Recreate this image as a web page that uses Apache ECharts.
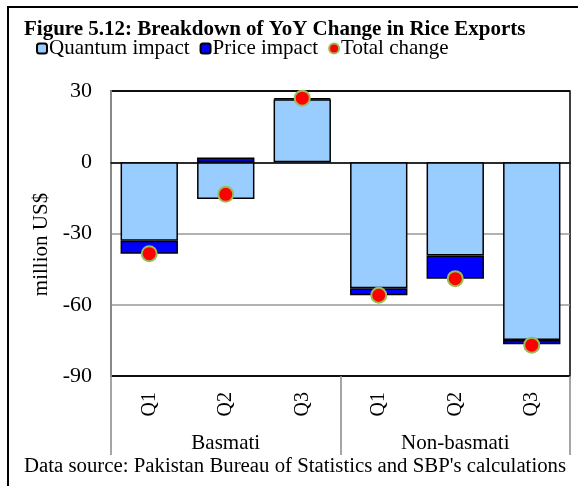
<!DOCTYPE html>
<html>
<head>
<meta charset="utf-8">
<script src="https://cdn.jsdelivr.net/npm/echarts@6/dist/echarts.min.js"></script>
<style>
  html, body { margin: 0; padding: 0; background: #fff; }
  #chart { width: 578px; height: 486px; }
</style>
</head>
<body>
<div id="chart"></div>
<script>
var quarters = ['Q1', 'Q2', 'Q3', 'Q1', 'Q2', 'Q3'];
var groups = ['Basmati', 'Non-basmati'];
var quantumImpact = [-33, -15.5, 26.5, -53, -39.3, -74.8];
var priceImpact = [-5.5, 2, 0.5, -3, -9.8, -1.8];
var totalChange = [-38.5, -13.5, 27, -56, -49, -77];

var serif = "'Liberation Serif', 'Times New Roman', serif";

document.addEventListener('DOMContentLoaded', function () {
    var myChart = echarts.init(document.getElementById('chart'));

    var option = {
        animation: false,
        backgroundColor: '#fff',
        title: {
            text: 'Figure 5.12: Breakdown of YoY Change in Rice Exports',
            left: 19,
            top: 14,
            textStyle: { fontFamily: serif, fontWeight: 'bold', fontSize: 21, color: '#000' }
        },
        legend: {
            left: 31,
            top: 33,
            itemGap: 10,
            itemWidth: 10,
            itemHeight: 10,
            textStyle: { fontFamily: serif, fontSize: 21, color: '#000', padding: [0, 0, 0, -3] },
            data: ['Quantum impact', 'Price impact', 'Total change']
        },
        grid: {
            left: 111,
            right: 8,
            top: 91,
            bottom: 110,
            show: true,
            borderColor: '#000',
            borderWidth: 1.5
        },
        xAxis: [
            {
                type: 'category',
                data: quarters,
                axisLine: { lineStyle: { color: '#000', width: 1.5 } },
                axisTick: { show: false },
                axisLabel: { rotate: 90, margin: 16, fontFamily: serif, fontSize: 20, color: '#000' }
            },
            {
                type: 'category',
                data: groups,
                position: 'bottom',
                axisLine: { show: false },
                axisTick: { show: true, length: 79, lineStyle: { color: '#888', width: 1.5 } },
                axisLabel: { margin: 57, fontFamily: serif, fontSize: 21, color: '#000' }
            }
        ],
        yAxis: {
            type: 'value',
            min: -90,
            max: 30,
            interval: 30,
            name: 'million US$',
            nameLocation: 'middle',
            nameGap: 51,
            nameTextStyle: { fontFamily: serif, fontSize: 21, color: '#000', padding: [0, 22, 0, 0] },
            axisLine: { show: true, lineStyle: { color: '#888', width: 2 } },
            axisTick: { show: false },
            axisLabel: { margin: 19, fontFamily: serif, fontSize: 22, color: '#000' },
            splitLine: {
                lineStyle: { color: ['#000', '#999', '#999', '#999', '#000'], width: 1.5 }
            }
        },
        graphic: [
            {
                type: 'text',
                left: 24,
                top: 456,
                style: {
                    text: "Data source: Pakistan Bureau of Statistics and SBP's calculations",
                    font: '20.8px ' + serif,
                    fill: '#000'
                }
            },
            {
                type: 'polyline',
                shape: { points: [[8, 486], [8, 7], [578, 7]] },
                style: { stroke: '#000', lineWidth: 2, fill: null }
            }
        ],
        series: [
            {
                name: 'Quantum impact',
                type: 'bar',
                stack: 'total',
                barCategoryGap: '25%',
                data: quantumImpact,
                itemStyle: { color: '#99CCFF', borderColor: '#000', borderWidth: 1.5 }
            },
            {
                name: 'Price impact',
                type: 'bar',
                stack: 'total',
                barCategoryGap: '25%',
                data: priceImpact,
                itemStyle: { color: '#0000FF', borderColor: '#000', borderWidth: 1.5 }
            },
            {
                name: 'Total change',
                type: 'scatter',
                symbol: 'circle',
                symbolSize: 15,
                z: 5,
                data: totalChange,
                itemStyle: { color: '#FF0000', borderColor: '#9BBB59', borderWidth: 2, opacity: 1 }
            }
        ]
    };

    myChart.setOption(option);
});
</script>
</body>
</html>
